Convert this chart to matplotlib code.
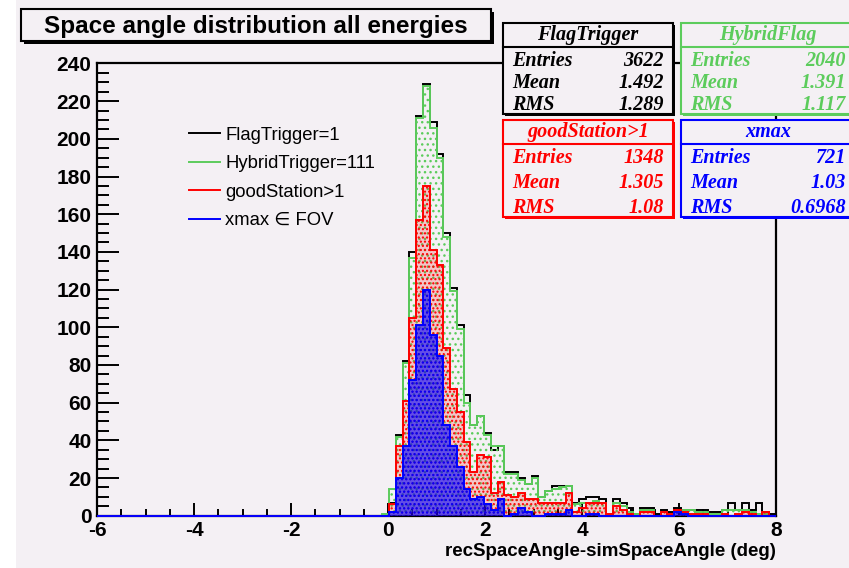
"""
Space angle distribution for all energies, four event selections
drawn as ROOT-style pattern filled histograms with stat boxes.
"""

import numpy as np
import matplotlib
matplotlib.use("Agg")
import matplotlib.pyplot as plt
from matplotlib.patches import Rectangle
from matplotlib.lines import Line2D


OUTPUT_FILE = "out.png"
W, H = 849, 568

# Binning: 100 bins from -6 to 8 deg, bins before FIRST_BIN are empty
X_MIN, X_MAX, N_BINS = -6.0, 8.0, 100
FIRST_BIN = 42

FLAG_TRIGGER = [0, 7, 43, 82, 140, 212, 229, 209, 192, 150, 121, 101, 64, 48,
                53, 44, 35, 37, 23, 23, 20, 17, 21, 10, 13, 16, 16, 16, 7, 9,
                10, 10, 9, 1, 9, 7, 4, 1, 4, 4, 1, 3, 2, 4, 3, 3, 3, 3, 2, 2,
                3, 7, 3, 7, 3, 7, 2, 1]
HYBRID_FLAG = [1, 14, 42, 81, 137, 211, 228, 206, 190, 148, 119, 99, 60, 48,
               53, 43, 37, 37, 22, 22, 19, 17, 20, 10, 13, 14, 15, 16, 6, 7,
               7, 8, 7, 1, 7, 5, 2, 1, 3, 3, 0, 2, 1, 2, 3, 3, 2, 2, 1, 1,
               3, 3, 3, 3, 2, 1, 1, 0]
GOOD_STATION = [0, 6, 37, 61, 105, 157, 175, 141, 133, 89, 67, 55, 39, 23,
                32, 31, 12, 18, 11, 10, 12, 9, 9, 7, 7, 7, 7, 12, 2, 4,
                7, 7, 7, 1, 5, 3, 1, 0, 2, 2, 0, 2, 1, 3, 2, 1, 1, 1, 0, 0,
                1, 0, 1, 2, 1, 0, 2, 0]
XMAX_FOV = [0, 2, 20, 37, 72, 101, 120, 96, 85, 48, 37, 26, 14, 9,
            10, 6, 3, 9, 0, 1, 4, 2, 0, 0, 1, 1, 1, 3, 0, 0,
            1, 1, 0, 0, 0, 0, 0, 0, 0, 0, 0, 0, 0, 2, 1, 0, 0, 0, 0, 0,
            0, 0, 0, 0, 0, 0, 0, 0]

LEGEND_LABELS = ["FlagTrigger=1", "HybridTrigger=111", "goodStation>1",
                 "xmax \u2208 FOV"]
STAT_TITLES = ["FlagTrigger", "HybridFlag", "goodStation>1", "xmax"]
STAT_ENTRIES = ["3622", "2040", "1348", "721"]
STAT_MEANS = ["1.492", "1.391", "1.305", "1.03"]
STAT_RMS = ["1.289", "1.117", "1.08", "0.6968"]

BG = "#f4f0f4"
GREEN = "#5ccc5c"
COLORS = ["black", GREEN, "red", "blue"]
HATCHES = [None, "...", "....", "...."]
FILLS = ["none", "none", (1, 0, 0, 0.18), (0, 0, 1, 0.6)]

SANS = ["Liberation Sans", "DejaVu Sans"]
SERIF = ["Liberation Serif", "DejaVu Serif"]

plt.rcParams["axes.unicode_minus"] = False


def fx(x):
    return x / W


def fy(y):
    return 1 - y / H


def fig_rect(fig, x0, y0, x1, y1, **kw):
    r = Rectangle((fx(x0), fy(y1)), (x1 - x0) / W, (y1 - y0) / H,
                  transform=fig.transFigure, **kw)
    fig.add_artist(r)
    return r


def shadow_box(fig, x0, y0, x1, y1, color, lw=1.5, off=3, z=5):
    fig_rect(fig, x0 + off, y0 + off, x1 + off, y1 + off,
             facecolor=color, edgecolor=color, lw=0, zorder=z)
    fig_rect(fig, x0, y0, x1, y1, facecolor=BG, edgecolor=color, lw=lw,
             zorder=z + 0.1)


def stat_box(fig, x0, y0, x1, y1, color, title, entries, mean, rms):
    shadow_box(fig, x0, y0, x1, y1, color, off=2)
    sep = y0 + 24
    fig.add_artist(Line2D([fx(x0), fx(x1)], [fy(sep), fy(sep)],
                          transform=fig.transFigure, color=color, lw=1.5,
                          zorder=6))
    font = dict(family=SERIF, weight="bold", style="italic", fontsize=14.5,
                color=color, zorder=7)
    fig.text(fx((x0 + x1) / 2), fy(y0 + 12), title, ha="center",
             va="center", **font)
    step = (y1 - y0 - 47) / 2
    for i, (lab, val) in enumerate(zip(["Entries", "Mean", "RMS"],
                                       [entries, mean, rms])):
        yy = y0 + 38 + i * step
        fig.text(fx(x0 + 9), fy(yy), lab, ha="left", va="center", **font)
        fig.text(fx(x1 - 9), fy(yy), val, ha="right", va="center", **font)


def main() -> None:
    edges = np.linspace(X_MIN, X_MAX, N_BINS + 1)
    empty = np.zeros(FIRST_BIN)
    series = [np.r_[empty, s] for s in
              (FLAG_TRIGGER, HYBRID_FLAG, GOOD_STATION, XMAX_FOV)]

    fig = plt.figure(figsize=(W / 100, H / 100), dpi=100, facecolor="white")
    fig_rect(fig, 16, 0, W, H, facecolor=BG, edgecolor="none", zorder=-10)

    ax = fig.add_axes([fx(97), fy(515.7), (776 - 97) / W, (515.7 - 63.5) / H])
    ax.set_facecolor(BG)

    for i, (vals, col, hatch, fc) in enumerate(
            zip(series, COLORS, HATCHES, FILLS)):
        if hatch:
            ax.stairs(vals, edges, fill=True, facecolor=fc, edgecolor=col,
                      hatch=hatch, linewidth=0, zorder=2 + i)
        # outlines are not clipped so the zero level shows over the axis
        ax.stairs(vals, edges, color=col, linewidth=1.4, zorder=2.6 + i,
                  baseline=None, clip_on=False)

    ax.set_xlim(X_MIN, X_MAX)
    ax.set_ylim(0, 240)
    ax.set_xticks(np.arange(-6, 9, 2))
    ax.set_xticks(np.arange(-6, 8.01, 0.5), minor=True)
    ax.set_yticks(np.arange(0, 241, 20))
    ax.set_yticks(np.arange(0, 241, 5), minor=True)
    ax.tick_params(axis="x", which="major", direction="in", length=9.5,
                   width=1.4, pad=4)
    ax.tick_params(axis="x", which="minor", direction="in", length=5,
                   width=1.4)
    ax.tick_params(axis="y", which="major", direction="in", length=16,
                   width=1.4, pad=4)
    ax.tick_params(axis="y", which="minor", direction="in", length=8.5,
                   width=1.4)
    for lab in ax.get_xticklabels() + ax.get_yticklabels():
        lab.set_fontfamily(SANS)
        lab.set_fontweight("bold")
        lab.set_fontsize(15)
    for sp in ax.spines.values():
        sp.set_linewidth(1.6)

    fig.text(fx(776), fy(551), "recSpaceAngle-simSpaceAngle (deg)",
             ha="right", va="center", family=SANS, weight="bold",
             fontsize=13.5)

    # Legend (no frame)
    handles = [Line2D([], [], color=c, lw=1.4) for c in COLORS]
    leg = ax.legend(handles, LEGEND_LABELS, loc="upper left",
                    bbox_to_anchor=(fx(172), fy(110)),
                    bbox_transform=fig.transFigure, frameon=False,
                    prop=dict(family=SANS, size=13.3), handlelength=1.68,
                    handletextpad=0.3, labelspacing=0.62)
    leg.set_zorder(10)

    # Title box
    shadow_box(fig, 21, 9, 491, 41, "black", lw=1.5, off=3)
    fig.text(fx(256), fy(26), "Space angle distribution all energies",
             ha="center", va="center", family=SANS, weight="bold",
             fontsize=17.5, zorder=7)

    # Stat boxes
    boxes = [(503, 23, 673, 114), (681, 23, 855, 114),
             (503, 120, 673, 217), (681, 120, 855, 217)]
    for (x0, y0, x1, y1), col, t, e, m, r in zip(
            boxes, COLORS, STAT_TITLES, STAT_ENTRIES, STAT_MEANS, STAT_RMS):
        stat_box(fig, x0, y0, x1, y1, col, t, e, m, r)

    fig.savefig(OUTPUT_FILE, dpi=100, facecolor=fig.get_facecolor())
    plt.close(fig)


if __name__ == "__main__":
    main()
